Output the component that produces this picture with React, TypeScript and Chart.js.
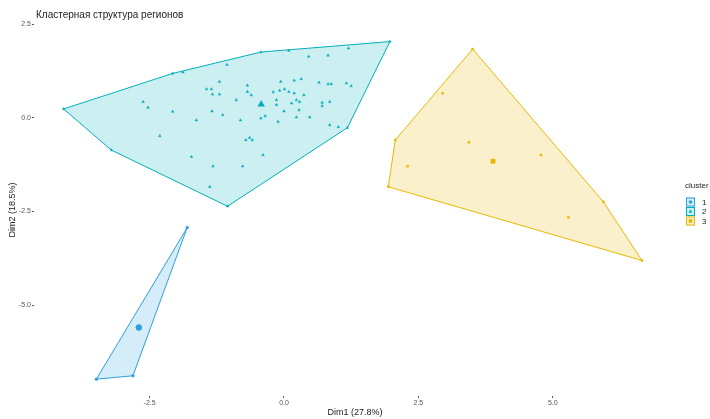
import React, { useEffect, useRef } from "react";
import { Chart, registerables } from "chart.js";

Chart.register(...registerables);

// Labels
const TITLE = "Кластерная структура регионов";
const X_TITLE = "Dim1 (27.8%)";
const Y_TITLE = "Dim2 (18.5%)";
const LEGEND_TITLE = "cluster";
const CLUSTER_LABELS = ["1", "2", "3"];
const CLUSTER_COLORS = ["#2E9FDF", "#00AFBB", "#E7B800"];
const CLUSTER_SHAPES = ["circle", "triangle", "rect"];

// Axis ticks and limits
const X_TICKS = [-2.5, 0, 2.5, 5];
const Y_TICKS = [-5, -2.5, 0, 2.5];
const X_LIMITS = [-4.65, 7.18];
const Y_LIMITS = [-7.43, 2.51];

// Cluster 1
const c1Dim1 = [-1.8, -3.49, -2.81];
const c1Dim2 = [-2.93, -6.98, -6.89];

// Cluster 2
const c2Dim1 = [
  -4.1, -3.21, -1.05, -2.07, -1.88, -1.06, -2.62, -2.53, -2.07, -1.63,
  -2.31, -1.2, -1.44, -1.35, -1.33, -1.2, -1.34, -1.14, -0.89, -0.81,
  -0.68, -0.68, -0.61, -0.71, -0.59, -1.72, -1.32, -0.77, -1.38, -0.43,
  0.09, 0.46, 0.82, 1.2, 1.97, 1.18, 0.85, 1.01, -0.06, 0.19,
  0.32, -0.2, -0.08, 0.01, 0.09, 0.19, 0.37, 0.65, 0.82, 0.88,
  1.16, 1.25, -0.14, 0.23, 0.29, -0.14, 0.0, 0.14, 0.28, 0.71,
  0.71, 0.85, -0.43, -0.35, -0.11, 0.23, 0.48, -0.64, -0.39,
];
const c2Dim2 = [
  0.24, -0.86, -2.36, 1.19, 1.22, 1.42, 0.43, 0.28, 0.17, -0.06,
  -0.48, 0.97, 0.77, 0.77, 0.63, 0.63, 0.18, 0.08, 0.48, -0.06,
  0.87, 0.7, 0.61, -0.59, -0.59, -1.04, -1.29, -1.29, -1.84, 1.76,
  1.8, 1.64, 1.67, 1.86, 2.04, -0.26, -0.19, -0.24, 0.97, 1.0,
  1.04, 0.69, 0.73, 0.77, 0.7, 0.66, 0.61, 0.95, 0.91, 0.91,
  0.93, 0.85, 0.48, 0.48, 0.43, 0.35, 0.18, 0.39, 0.21, 0.41,
  0.32, 0.43, -0.01, 0.05, -0.1, 0.02, 0.02, -0.53, -0.99,
];

// Cluster 3
const c3Dim1 = [3.51, 2.95, 2.07, 1.94, 2.3, 3.44, 4.78, 5.94, 5.29, 6.66];
const c3Dim2 = [1.84, 0.66, -0.59, -1.84, -1.29, -0.65, -0.99, -2.24, -2.66, -3.81];

type Pt = { x: number; y: number };

const zip = (xs: number[], ys: number[]): Pt[] => xs.map((x, i) => ({ x, y: ys[i] }));

function convexHull(pts: Pt[]): Pt[] {
  const p = pts.slice().sort((a, b) => a.x - b.x || a.y - b.y);
  const cross = (o: Pt, a: Pt, b: Pt) => (a.x - o.x) * (b.y - o.y) - (a.y - o.y) * (b.x - o.x);
  const lower: Pt[] = [];
  for (const q of p) {
    while (lower.length >= 2 && cross(lower[lower.length - 2], lower[lower.length - 1], q) <= 0) lower.pop();
    lower.push(q);
  }
  const upper: Pt[] = [];
  for (let i = p.length - 1; i >= 0; i--) {
    const q = p[i];
    while (upper.length >= 2 && cross(upper[upper.length - 2], upper[upper.length - 1], q) <= 0) upper.pop();
    upper.push(q);
  }
  upper.pop();
  lower.pop();
  return lower.concat(upper);
}

const centroid = (pts: Pt[]): Pt => ({
  x: pts.reduce((s, q) => s + q.x, 0) / pts.length,
  y: pts.reduce((s, q) => s + q.y, 0) / pts.length,
});

function withAlpha(hex: string, a: number) {
  const n = parseInt(hex.slice(1), 16);
  return `rgba(${(n >> 16) & 255},${(n >> 8) & 255},${n & 255},${a})`;
}

function drawShape(ctx: CanvasRenderingContext2D, shape: string, x: number, y: number, r: number) {
  ctx.beginPath();
  if (shape === "circle") {
    ctx.arc(x, y, r, 0, Math.PI * 2);
  } else if (shape === "triangle") {
    ctx.moveTo(x, y - r * 1.15);
    ctx.lineTo(x + r * 1.1, y + r * 0.75);
    ctx.lineTo(x - r * 1.1, y + r * 0.75);
    ctx.closePath();
  } else {
    ctx.rect(x - r, y - r, r * 2, r * 2);
  }
  ctx.fill();
}

const FONT = "'Liberation Sans', Arial, Helvetica, sans-serif";

const decorations = {
  id: "decorations",
  afterDraw(chart: Chart) {
    const ctx = chart.ctx;
    const area = chart.chartArea;
    ctx.save();
    // plot title
    ctx.fillStyle = "#222";
    ctx.font = `10px ${FONT}`;
    ctx.textAlign = "left";
    ctx.textBaseline = "middle";
    ctx.fillText(TITLE, 36, 15.5);

    // axis titles
    ctx.font = `9px ${FONT}`;
    ctx.textAlign = "center";
    ctx.fillText(X_TITLE, (area.left + area.right) / 2 + 3, 413);
    ctx.save();
    ctx.translate(13, (area.top + area.bottom) / 2);
    ctx.rotate(-Math.PI / 2);
    ctx.fillText(Y_TITLE, 0, 0);
    ctx.restore();

    // legend
    ctx.textAlign = "left";
    ctx.font = `8px ${FONT}`;
    ctx.fillText(LEGEND_TITLE, 685, 186);
    const centers = [202, 211.5, 221];
    CLUSTER_LABELS.forEach((lab, i) => {
      const cy = centers[i];
      const col = CLUSTER_COLORS[i];
      ctx.fillStyle = withAlpha(col, 0.2);
      ctx.fillRect(686, cy - 4.5, 9, 9);
      ctx.strokeStyle = col;
      ctx.lineWidth = 1;
      ctx.strokeRect(686.5, cy - 4, 8, 8);
      ctx.fillStyle = col;
      drawShape(ctx, CLUSTER_SHAPES[i], 690.5, cy, 1.8);
      ctx.fillStyle = "#222";
      ctx.fillText(lab, 702, cy + 0.5);
    });
    ctx.restore();
  },
};

export default function App() {
  const ref = useRef<HTMLCanvasElement | null>(null);

  useEffect(() => {
    if (!ref.current) return;
    const groups = [zip(c1Dim1, c1Dim2), zip(c2Dim1, c2Dim2), zip(c3Dim1, c3Dim2)];

    const hullSets = groups.map((pts, i) => {
      const h = convexHull(pts);
      return {
        type: "line" as const,
        data: [...h, h[0]],
        borderColor: CLUSTER_COLORS[i],
        backgroundColor: withAlpha(CLUSTER_COLORS[i], 0.2),
        borderWidth: 1,
        pointRadius: 0,
        fill: "shape",
        tension: 0,
        order: 3,
      };
    });

    const pointSets = groups.map((pts, i) => ({
      type: "scatter" as const,
      data: pts,
      pointStyle: CLUSTER_SHAPES[i],
      pointRadius: CLUSTER_SHAPES[i] === "triangle" ? 1.5 : 1.4,
      pointBorderWidth: 0.5,
      backgroundColor: CLUSTER_COLORS[i],
      borderColor: CLUSTER_COLORS[i],
      order: 2,
    }));

    const centerSets = groups.map((pts, i) => ({
      type: "scatter" as const,
      data: [centroid(pts)],
      pointStyle: CLUSTER_SHAPES[i],
      pointRadius: CLUSTER_SHAPES[i] === "triangle" ? 3.8 : 3,
      pointBorderWidth: 0.5,
      backgroundColor: CLUSTER_COLORS[i],
      borderColor: CLUSTER_COLORS[i],
      order: 1,
    }));

    const tickFont = { size: 7, family: FONT };

    const chart = new Chart(ref.current, {
      type: "scatter",
      data: { datasets: [...hullSets, ...pointSets, ...centerSets] as any },
      options: {
        animation: false,
        responsive: false,
        layout: { padding: { top: 24, right: 40, bottom: 0, left: 0 } },
        plugins: { legend: { display: false }, tooltip: { enabled: false } },
        scales: {
          x: {
            type: "linear",
            min: X_LIMITS[0],
            max: X_LIMITS[1],
            afterBuildTicks: (s: any) => {
              s.ticks = X_TICKS.map((v) => ({ value: v }));
            },
            afterFit: (s: any) => {
              s.height = 23;
            },
            ticks: {
              font: tickFont,
              color: "#555",
              padding: 1,
              maxRotation: 0,
              callback: (v: any) => Number(v).toFixed(1),
            },
            grid: { drawOnChartArea: false, drawTicks: true, tickLength: 2, tickColor: "#555" },
            border: { display: false },
          },
          y: {
            type: "linear",
            min: Y_LIMITS[0],
            max: Y_LIMITS[1],
            afterBuildTicks: (s: any) => {
              s.ticks = Y_TICKS.map((v) => ({ value: v }));
            },
            afterFit: (s: any) => {
              s.width = 34;
            },
            ticks: {
              font: tickFont,
              color: "#555",
              padding: 1,
              callback: (v: any) => Number(v).toFixed(1),
            },
            grid: { drawOnChartArea: false, drawTicks: true, tickLength: 2, tickColor: "#555" },
            border: { display: false },
          },
        },
      },
      plugins: [decorations],
    });
    return () => chart.destroy();
  }, []);

  return (
    <div style={{ position: "fixed", left: 0, top: 0, width: 710, height: 419, background: "#fff" }}>
      <canvas ref={ref} width={710} height={419} style={{ display: "block" }} />
    </div>
  );
}
